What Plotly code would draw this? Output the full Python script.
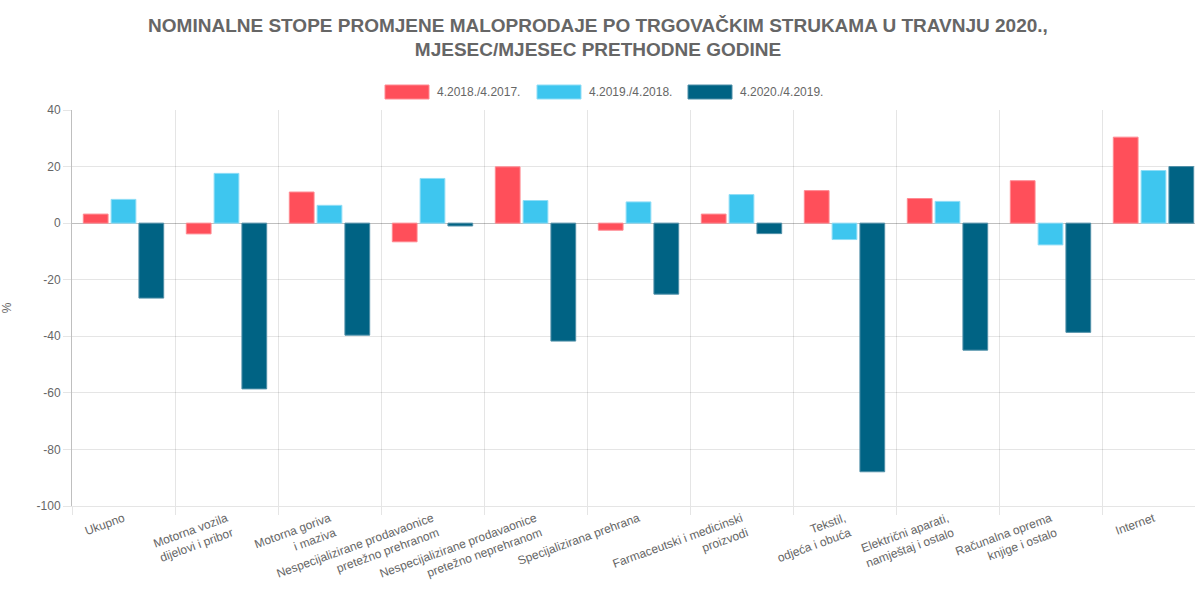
import plotly.graph_objects as go

categories = [
    "Ukupno",
    "Motorna vozila<br>dijelovi i pribor",
    "Motorna goriva<br>i maziva",
    "Nespecijalizirane prodavaonice<br>pretežno prehranom",
    "Nespecijalizirane prodavaonice<br>pretežno neprehranom",
    "Specijalizirana prehrana",
    "Farmaceutski i medicinski<br>proizvodi",
    "Tekstil,<br>odjeća i obuća",
    "Električni aparati,<br>namještaj i ostalo",
    "Računalna oprema<br>knjige i ostalo",
    "Internet",
]
series_names = ["4.2018./4.2017.", "4.2019./4.2018.", "4.2020./4.2019."]
v_2018 = [3.2, -3.8, 11.0, -6.6, 19.9, -2.5, 3.2, 11.5, 8.7, 15.0, 30.4]
v_2019 = [8.4, 17.6, 6.3, 15.8, 8.0, 7.5, 10.1, -5.8, 7.7, -7.7, 18.6]
v_2020 = [-26.5, -58.6, -39.6, -1.0, -41.7, -25.1, -3.7, -87.9, -44.9, -38.6, 20.0]
y_ticks = [40, 20, 0, -20, -40, -60, -80, -100]

colors = ["#FF4F5A", "#3EC6EF", "#006384"]
borders = ["#FF8A92", "#8FDDF6", "#4F8FA8"]

W, H = 1195, 592
L, R, T, B = 72, 0, 110, 86
PW, PH = W - L - R, H - T - B
CAT_PX = 103.0  # pixel width of one category in the reference


def px(x):
    return (x - L) / PW


def py(y):
    return (H - B - y) / PH


fig = go.Figure()
for name, vals, c, b in zip(series_names, [v_2018, v_2019, v_2020], colors, borders):
    fig.add_trace(go.Bar(
        x=categories, y=vals, name=name, showlegend=False,
        marker=dict(color=c, line=dict(color=b, width=1)),
    ))

font_family = "Liberation Sans, Arial, sans-serif"

# legend drawn as wide boxes like the reference
legend_boxes = [(385, 429), (537, 581), (688, 732)]
shapes = []
annotations = []
for (x0, x1), name, c, b in zip(legend_boxes, series_names, colors, borders):
    shapes.append(dict(type="rect", xref="paper", yref="paper",
                       x0=px(x0), x1=px(x1), y0=py(99), y1=py(85),
                       fillcolor=c, line=dict(color=b, width=1)))
    annotations.append(dict(xref="paper", yref="paper", x=px(x1 + 6), y=py(92),
                            xanchor="left", yanchor="middle", showarrow=False,
                            text=name, font=dict(size=12, color="#666666")))

fig.update_layout(
    width=W, height=H,
    paper_bgcolor="white", plot_bgcolor="white",
    margin=dict(l=L, r=R, t=T, b=B),
    barmode="group", bargap=0.19, bargroupgap=0.11,
    font=dict(family=font_family, size=12, color="#666666"),
    title=dict(
        text="<b>NOMINALNE STOPE PROMJENE MALOPRODAJE PO TRGOVAČKIM STRUKAMA U TRAVNJU 2020.,<br>MJESEC/MJESEC PRETHODNE GODINE</b>",
        x=598 / W, xanchor="center", xref="container",
        y=1 - 31.5 / H, yanchor="middle", yref="container",
        font=dict(family=font_family, size=19, color="#666666"),
    ),
    showlegend=False,
    shapes=shapes,
    annotations=annotations,
)
fig.update_xaxes(
    range=[-0.5, -0.5 + PW / CAT_PX],
    tickson="boundaries", showgrid=True, gridcolor="rgba(0,0,0,0.1)", gridwidth=1,
    ticks="outside", ticklen=8, tickcolor="rgba(0,0,0,0.1)",
    tickangle=-20, tickfont=dict(size=12, color="#666666"),
    showline=True, linecolor="rgba(0,0,0,0.1)", linewidth=1,
    automargin=False,
)
fig.update_yaxes(
    range=[-100, 40], tickvals=y_ticks, ticktext=[str(t) for t in y_ticks],
    showgrid=True, gridcolor="rgba(0,0,0,0.1)", gridwidth=1,
    zeroline=True, zerolinecolor="rgba(0,0,0,0.25)", zerolinewidth=1,
    ticks="outside", ticklen=8, tickcolor="rgba(0,0,0,0.1)",
    showline=True, linecolor="rgba(0,0,0,0.25)", linewidth=1,
    tickfont=dict(size=12, color="#666666"),
    title=dict(text="%", font=dict(size=12, color="#666666"), standoff=22),
    automargin=False,
)

fig.write_html("out.html", config={"displayModeBar": False},
               post_script="document.body.style.margin='0';")
